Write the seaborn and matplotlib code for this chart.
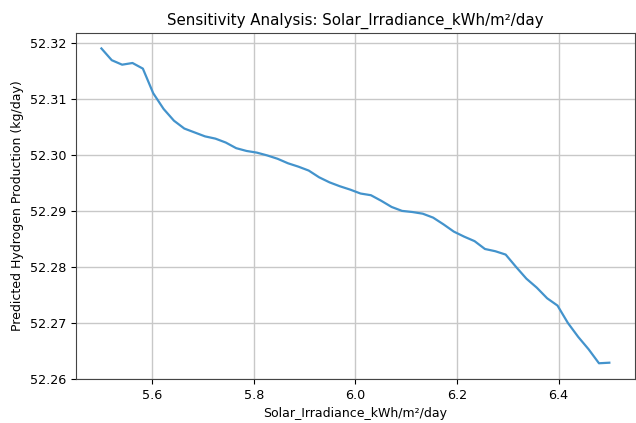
import matplotlib
matplotlib.use("Agg")
import matplotlib.pyplot as plt
import seaborn as sns
import numpy as np
import pandas as pd

# Data (50 evenly spaced irradiance values)
irradiance = np.linspace(5.5, 6.5, 50)
production = [
    52.3190, 52.3169, 52.3161, 52.3164, 52.3154, 52.3110, 52.3082, 52.3061,
    52.3047, 52.3040, 52.3033, 52.3029, 52.3022, 52.3012, 52.3007, 52.3004,
    52.2999, 52.2993, 52.2985, 52.2979, 52.2972, 52.2960, 52.2951, 52.2944,
    52.2938, 52.2931, 52.2928, 52.2918, 52.2907, 52.2900, 52.2898, 52.2895,
    52.2888, 52.2876, 52.2863, 52.2854, 52.2846, 52.2832, 52.2828, 52.2822,
    52.2800, 52.2779, 52.2763, 52.2744, 52.2731, 52.2700, 52.2675, 52.2653,
    52.2628, 52.2629,
]
x_label = "Solar_Irradiance_kWh/m²/day"
y_label = "Predicted Hydrogen Production (kg/day)"
title = "Sensitivity Analysis: Solar_Irradiance_kWh/m²/day"

df = pd.DataFrame({"x": irradiance, "y": production})

plt.rcParams["font.family"] = ["DejaVu Sans"]
fig, ax = plt.subplots(figsize=(6.36, 4.23), dpi=100)
fig.subplots_adjust(left=0.1195, right=0.998, top=0.9227, bottom=0.104)

sns.lineplot(data=df, x="x", y="y", ax=ax, color="#4393cc", linewidth=1.6)

ax.set_title(title, fontsize=10.8)
ax.set_xlabel(x_label, fontsize=9.0)
ax.set_ylabel(y_label, fontsize=9.0)
ax.tick_params(labelsize=9.2)
ax.grid(True, color="#c8c8c8", linewidth=1.0)
ax.yaxis.set_major_formatter(matplotlib.ticker.FormatStrFormatter("%.2f"))
for s in ax.spines.values():
    s.set_color("#444444")

fig.savefig("out.png", dpi=100)
